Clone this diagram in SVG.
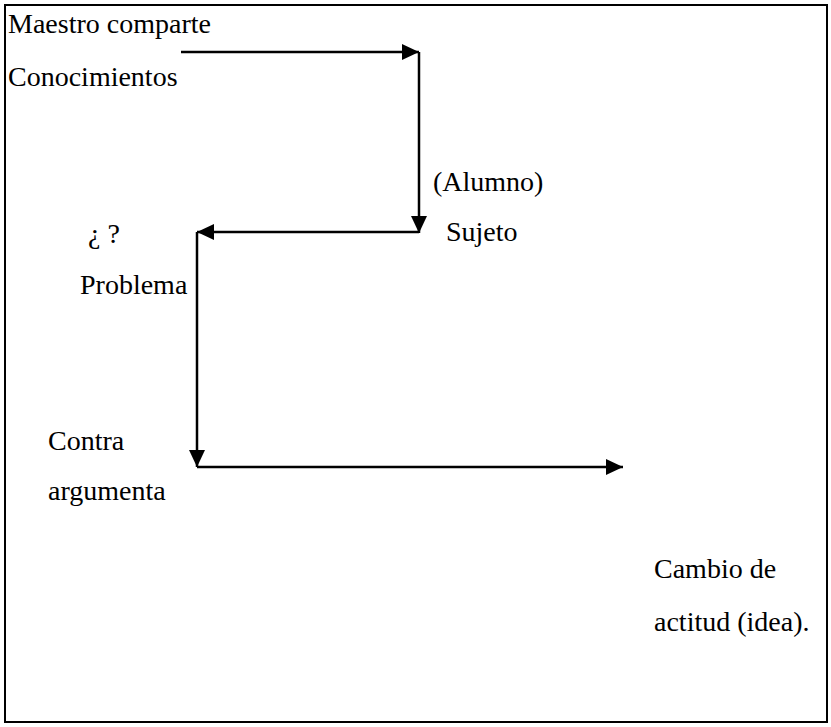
<svg xmlns="http://www.w3.org/2000/svg" width="831" height="727" viewBox="0 0 831 727">
<style>
text{font-family:"Liberation Serif","Times New Roman",serif;font-size:28px;fill:#000}
.c{stroke:#000;stroke-width:2.5;fill:none}
</style>
<defs>
<marker id="ah" markerUnits="userSpaceOnUse" markerWidth="18" markerHeight="16" refX="17" refY="8" orient="auto">
<path d="M0,0 L17,8 L0,16 Z" fill="#000"/>
</marker>
</defs>
<rect x="5" y="5" width="822" height="717" fill="#fff" stroke="#000" stroke-width="2"/>
<g id="maestro"><text x="8" y="33">Maestro comparte</text><text x="8" y="86">Conocimientos</text></g>
<g id="sujeto"><text x="433" y="191">(Alumno)</text><text x="446" y="241">Sujeto</text></g>
<g id="problema"><text x="88" y="243">¿ ?</text><text x="80" y="294">Problema</text></g>
<g id="contra"><text x="48" y="450">Contra</text><text x="48" y="500">argumenta</text></g>
<g id="cambio"><text x="654" y="578">Cambio de</text><text x="654" y="631">actitud (idea).</text></g>
<g id="connectors">
<path class="c" d="M181,52 H419" marker-end="url(#ah)"/>
<path class="c" d="M419,52 V233" marker-end="url(#ah)"/>
<path class="c" d="M419,232 H197" marker-end="url(#ah)"/>
<path class="c" d="M197,232 V467" marker-end="url(#ah)"/>
<path class="c" d="M197,467 H623" marker-end="url(#ah)"/>
</g>
</svg>
